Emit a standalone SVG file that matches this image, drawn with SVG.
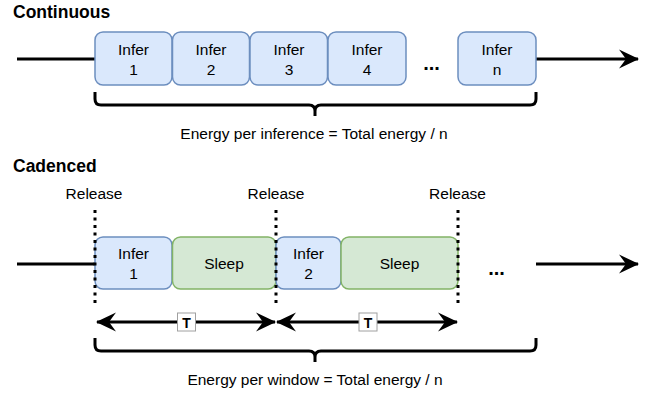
<svg xmlns="http://www.w3.org/2000/svg" width="652" height="395" viewBox="0 0 652 395">
<defs>
<style>
text{font-family:"Liberation Sans",Arial,Helvetica,sans-serif;fill:#000}
.t{font-size:15.5px;text-anchor:middle}
.h{font-size:17.5px;font-weight:bold}
.blue{fill:#dae8fc;stroke:#6c8ebf;stroke-width:1.5}
.green{fill:#d5e8d4;stroke:#82b366;stroke-width:1.5}
.ln{fill:none;stroke:#000;stroke-width:3}
.dot{fill:none;stroke:#000;stroke-width:3;stroke-dasharray:3 4.5}
.tb{fill:#fff;stroke:#a0a0a0;stroke-width:1}
.dots{font-size:20px;font-weight:bold;text-anchor:middle}
.tl{font-size:14px;font-weight:bold;text-anchor:middle}
</style>
<marker id="ah" viewBox="0 0 20 20" refX="19" refY="10" markerWidth="20" markerHeight="20" markerUnits="userSpaceOnUse" orient="auto-start-reverse">
<path d="M0,0.5 L20,10 L0,19.5 L7,10 Z" fill="#000"/>
</marker>
</defs>
<rect width="652" height="395" fill="#fff"/>
<text class="h" x="13" y="18">Continuous</text>
<text class="h" x="13" y="172">Cadenced</text>
<g id="connectors">
<line class="ln" x1="17" y1="59" x2="95" y2="59"/>
<line class="ln" x1="536" y1="59" x2="638" y2="59" marker-end="url(#ah)"/>
<line class="ln" x1="17" y1="264" x2="95" y2="264"/>
<line class="ln" x1="536" y1="264" x2="638" y2="264" marker-end="url(#ah)"/>
<line class="ln" x1="97" y1="322" x2="275" y2="322" marker-start="url(#ah)" marker-end="url(#ah)"/>
<line class="ln" x1="277" y1="322" x2="457" y2="322" marker-start="url(#ah)" marker-end="url(#ah)"/>
</g>
<g id="brace-top">
<path class="ln" d="M95,92 V99 Q95,105 101,105 H309 Q315,105 315,111 V116 M315,111 Q315,105 321,105 H530 Q536,105 536,99 V92"/>
<text x="314" y="139" class="t">Energy per inference = Total energy / n</text>
</g>
<g id="infer1-top"><rect class="blue" x="95" y="32" width="77" height="53" rx="8"/><text class="t" x="133.5" y="55">Infer</text><text class="t" x="133.5" y="75">1</text></g>
<g id="infer2-top"><rect class="blue" x="172.5" y="32" width="77" height="53" rx="8"/><text class="t" x="211" y="55">Infer</text><text class="t" x="211" y="75">2</text></g>
<g id="infer3-top"><rect class="blue" x="250" y="32" width="77.5" height="53" rx="8"/><text class="t" x="289" y="55">Infer</text><text class="t" x="289" y="75">3</text></g>
<g id="infer4-top"><rect class="blue" x="328" y="32" width="78" height="53" rx="8"/><text class="t" x="367" y="55">Infer</text><text class="t" x="367" y="75">4</text></g>
<g id="dots-top"><text class="dots" x="431.5" y="70">...</text></g>
<g id="infern-top"><rect class="blue" x="458" y="32" width="78" height="53" rx="8"/><text class="t" x="497" y="55">Infer</text><text class="t" x="497" y="75">n</text></g>

<g id="infer1-bot"><rect class="blue" x="95" y="237" width="77" height="52" rx="8"/><text class="t" x="133.5" y="259">Infer</text><text class="t" x="133.5" y="279">1</text></g>
<g id="sleep1"><rect class="green" x="172.5" y="237" width="103.5" height="52" rx="8"/><text class="t" x="224" y="269">Sleep</text></g>
<g id="infer2-bot"><rect class="blue" x="276" y="237" width="65" height="52" rx="8"/><text class="t" x="308.5" y="259">Infer</text><text class="t" x="308.5" y="279">2</text></g>
<g id="sleep2"><rect class="green" x="341" y="237" width="117" height="52" rx="8"/><text class="t" x="399.5" y="269">Sleep</text></g>
<g id="dots-bot"><text class="dots" x="496.5" y="275">...</text></g>

<g id="release1"><text class="t" x="94" y="199">Release</text><line class="dot" x1="95" y1="210" x2="95" y2="306"/></g>
<g id="release2"><text class="t" x="276" y="199">Release</text><line class="dot" x1="276" y1="210" x2="276" y2="306"/></g>
<g id="release3"><text class="t" x="457.5" y="199">Release</text><line class="dot" x1="458" y1="210" x2="458" y2="306"/></g>

<g id="T1"><rect class="tb" x="177.5" y="313" width="18" height="18"/><text class="tl" x="186.5" y="327.5">T</text></g>
<g id="T2"><rect class="tb" x="359" y="313" width="18" height="18"/><text class="tl" x="368" y="327.5">T</text></g>

<g id="brace-bot">
<path class="ln" d="M95,338 V345 Q95,351 101,351 H309 Q315,351 315,357 V362 M315,357 Q315,351 321,351 H530 Q536,351 536,345 V338"/>
<text x="315" y="385" class="t">Energy per window = Total energy / n</text>
</g>
</svg>
